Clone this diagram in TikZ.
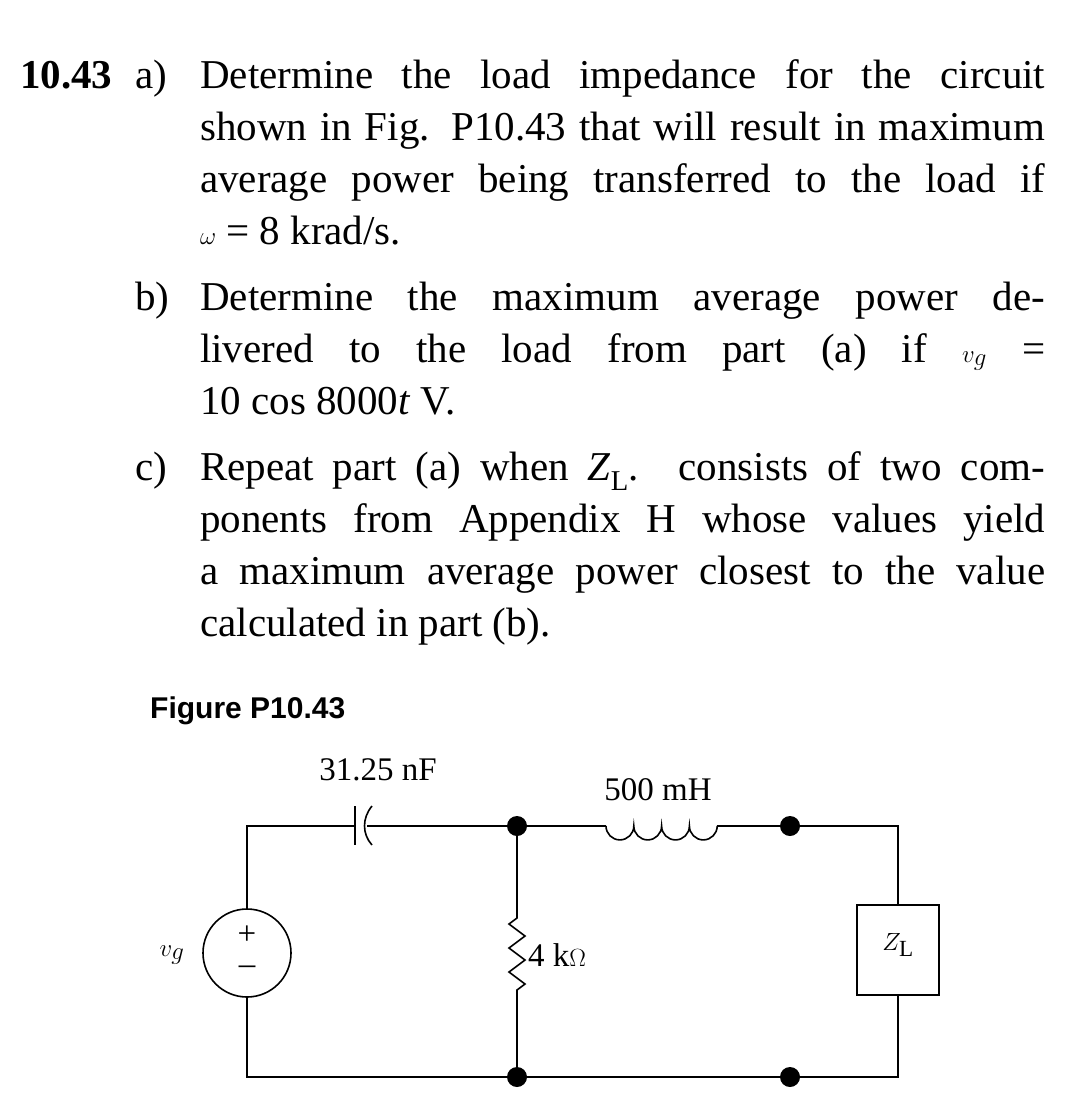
\documentclass[tikz,border=0pt]{standalone}
\usepackage{fontspec}
\setmainfont{Liberation Serif}
\newfontfamily\figsans{Liberation Sans}
\usetikzlibrary{decorations.pathmorphing}
\tikzset{
  txt/.style={anchor=base west,inner sep=0pt,font=\fontsize{41}{50}\selectfont},
  lbl/.style={inner sep=0pt,font=\fontsize{33}{40}\selectfont},
  wire/.style={line width=1.6pt},
  dot/.style={circle,fill=black,inner sep=0pt,minimum size=20pt},
}
\newcommand{\jline}[1]{\makebox[845pt][s]{#1}}
\begin{document}
\begin{tikzpicture}[x=1pt,y=-1pt]
\useasboundingbox[fill=white] (0,0) rectangle (1080,1119);
% text
\node[txt,font=\fontsize{41}{50}\selectfont\bfseries] (num) at (20,88) {10.43};
\node[txt] (a0) at (135,88) {a)};
\node[txt] (a1) at (200,88) {\jline{Determine the load impedance for the circuit}};
\node[txt] (a2) at (200,140) {\jline{shown in Fig. P10.43 that will result in maximum}};
\node[txt] (a3) at (200,192) {\jline{average power being transferred to the load if}};
\node[txt] (a4) at (200,244) {$\omega$ = 8 krad/s.};
\node[txt] (b0) at (135,310) {b)};
\node[txt] (b1) at (200,310) {\jline{Determine the maximum average power de-}};
\node[txt] (b2) at (200,362) {\jline{livered to the load from part (a) if $v_g$ =}};
\node[txt] (b3) at (200,414) {10 cos 8000\textit{t} V.};
\node[txt] (c0) at (135,480) {c)};
\node[txt] (c1) at (200,480) {\jline{Repeat part (a) when \textit{Z}\textsubscript{L}. consists of two com-}};
\node[txt] (c2) at (200,532) {\jline{ponents from Appendix H whose values yield}};
\node[txt] (c3) at (200,584) {\jline{a maximum average power closest to the value}};
\node[txt] (c4) at (200,636) {calculated in part (b).};
\node[anchor=base west,inner sep=0pt,font=\figsans\bfseries\fontsize{30}{36}\selectfont] (fig) at (150,718) {Figure P10.43};
% circuit
\coordinate (tl) at (247,826);
\coordinate (bl) at (247,1077);
\node[draw,circle,line width=1.6pt,minimum size=88pt,inner sep=0pt] (src) at (247,953) {};
\node[lbl] at (247,935) {+};
\node[lbl] at (247,970) {--};
\node[lbl] (vg) at (172,955) {$v_g$};
\coordinate (c1l) at (355,826);
\coordinate (c2r) at (374,826);
\node[dot] (j1) at (517,826) {};
\node[dot] (j2) at (517,1077) {};
\node[dot] (r1) at (790,826) {};
\node[dot] (r2) at (790,1077) {};
\coordinate (tr) at (898,826);
\coordinate (br) at (898,1077);
\node[draw,line width=1.6pt,minimum width=82pt,minimum height=90pt,inner sep=0pt] (zl) at (898,950) {};
\node[lbl] at (898,945) {$Z_{\mathrm{L}}$};
\draw[wire] (src.north) -- (tl) -- (c1l);
\draw[wire] (355,806) -- (355,845);
\draw[wire] (372,806) .. controls (362,818) and (362,834) .. (372,845);
\draw[wire] (367,826) -- (j1);
\draw[wire] (src.south) -- (bl) -- (j2) -- (r2) -- (br) -- (zl.south);
\draw[wire] (zl.north) -- (tr) -- (r1);
\coordinate (la) at (606,826);
\coordinate (lb) at (717,826);
\draw[wire] (j1) -- (la);
\draw[wire] (la) \foreach \i in {0,1,2,3} { arc[start angle=180,end angle=0,radius=13.9] } ;
\draw[wire] (lb) -- (r1);
\coordinate (ra) at (517,918);
\coordinate (rb) at (517,990);
\draw[wire] (j1) -- (ra) -- (509,924) -- (525,936) -- (509,948) -- (525,960) -- (509,972) -- (525,984) -- (rb) -- (j2);
\node[lbl] at (378,770) {31.25 nF};
\node[lbl] at (658,790) {500 mH};
\node[lbl,anchor=west] at (528,955) {4 k$\Omega$};
\end{tikzpicture}
\end{document}
